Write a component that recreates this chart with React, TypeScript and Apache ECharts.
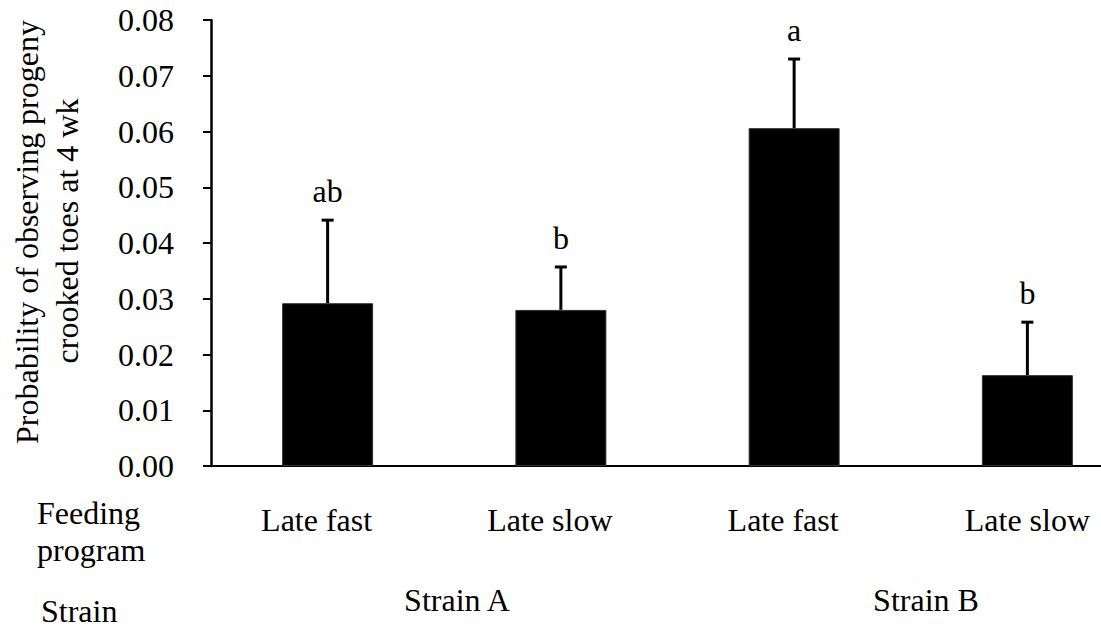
import React, { useEffect, useRef } from "react";
import * as echarts from "echarts";

const categories = ["Late fast", "Late slow", "Late fast", "Late slow"];
const means = [0.0292, 0.028, 0.0606, 0.0163];
const upperErrors = [0.0441, 0.0357, 0.073, 0.0258];
const letters = ["ab", "b", "a", "b"];
const strains = ["Strain A", "Strain B"];
const yTitleLines = ["Probability of observing progeny", "crooked toes at 4 wk"];
const rowTitles = ["Feeding", "program", "Strain"];

const FONT = "Liberation Serif, Times New Roman, serif";
const FS = 32;

export default function App() {
  const ref = useRef<HTMLDivElement>(null);

  useEffect(() => {
    if (!ref.current) return;
    const chart = echarts.init(ref.current, undefined, { renderer: "svg" });

    const errData = categories.map((_, i) => [i, means[i], upperErrors[i], letters[i]]);

    const option: any = {
      animation: false,
      backgroundColor: "#fff",
      textStyle: { fontFamily: FONT },
      grid: { left: 211, top: 20, width: 933, height: 446, outerBoundsMode: "none", containLabel: false },
      xAxis: {
        type: "category",
        data: categories,
        axisLine: { show: true, lineStyle: { color: "#000", width: 2 } },
        axisTick: { show: false },
        axisLabel: {
          color: "#000",
          fontFamily: FONT,
          fontSize: FS,
          margin: 38,
          interval: 0,
          formatter: (v: string, i: number) => (i < 3 ? `{f|${v}}` : `{s|${v}}`),
          rich: {
            f: { fontFamily: FONT, fontSize: FS, color: "#000", padding: [0, 22, 0, 0] },
            s: { fontFamily: FONT, fontSize: FS, color: "#000" },
          },
        },
        splitLine: { show: false },
      },
      yAxis: {
        type: "value",
        min: 0,
        max: 0.08,
        interval: 0.01,
        axisLine: { show: true, lineStyle: { color: "#000", width: 2.5 } },
        axisTick: { show: true, inside: false, length: 8, lineStyle: { color: "#000", width: 2 } },
        axisLabel: {
          color: "#000",
          fontFamily: FONT,
          fontSize: FS,
          margin: 37,
          formatter: (v: number) => v.toFixed(2),
        },
        splitLine: { show: false },
      },
      series: [
        {
          type: "bar",
          data: means,
          barWidth: 91,
          itemStyle: { color: "#000", borderColor: "#333", borderWidth: 1 },
          z: 2,
        },
        {
          type: "custom",
          data: errData,
          z: 3,
          clip: false,
          renderItem: (params: any, api: any) => {
            const i = api.value(0);
            const base = api.coord([i, api.value(1)]);
            const top = api.coord([i, api.value(2)]);
            const label = letters[params.dataIndex];
            return {
              type: "group",
              children: [
                {
                  type: "line",
                  shape: { x1: base[0], y1: base[1], x2: top[0], y2: top[1] },
                  style: { stroke: "#000", lineWidth: 3 },
                },
                {
                  type: "line",
                  shape: { x1: top[0] - 6, y1: top[1], x2: top[0] + 6, y2: top[1] },
                  style: { stroke: "#000", lineWidth: 3 },
                },
                {
                  type: "text",
                  style: {
                    text: label,
                    x: top[0],
                    y: top[1] - 13,
                    align: "center",
                    verticalAlign: "bottom",
                    fontFamily: FONT,
                    fontSize: FS,
                    fill: "#000",
                  },
                },
              ],
            };
          },
        },
      ],
      graphic: [
        {
          type: "text",
          x: 27,
          y: 232,
          rotation: Math.PI / 2,
          style: { text: yTitleLines[0], align: "center", verticalAlign: "middle", fontFamily: FONT, fontSize: FS, fill: "#000" },
        },
        {
          type: "text",
          x: 67,
          y: 231,
          rotation: Math.PI / 2,
          style: { text: yTitleLines[1], align: "center", verticalAlign: "middle", fontFamily: FONT, fontSize: FS, fill: "#000" },
        },
        {
          type: "text",
          x: 37,
          y: 513,
          style: { text: rowTitles[0], align: "left", verticalAlign: "middle", fontFamily: FONT, fontSize: FS, fill: "#000" },
        },
        {
          type: "text",
          x: 37,
          y: 550,
          style: { text: rowTitles[1], align: "left", verticalAlign: "middle", fontFamily: FONT, fontSize: FS, fill: "#000" },
        },
        {
          type: "text",
          x: 41,
          y: 611,
          style: { text: rowTitles[2], align: "left", verticalAlign: "middle", fontFamily: FONT, fontSize: FS, fill: "#000" },
        },
        {
          type: "text",
          x: 457,
          y: 600,
          style: { text: strains[0], align: "center", verticalAlign: "middle", fontFamily: FONT, fontSize: FS, fill: "#000" },
        },
        {
          type: "text",
          x: 926,
          y: 600,
          style: { text: strains[1], align: "center", verticalAlign: "middle", fontFamily: FONT, fontSize: FS, fill: "#000" },
        },
      ],
    };

    chart.setOption(option);
    return () => chart.dispose();
  }, []);

  return (
    <div
      ref={ref}
      style={{ position: "absolute", left: 0, top: 0, width: 1101, height: 629, background: "#fff" }}
    />
  );
}
